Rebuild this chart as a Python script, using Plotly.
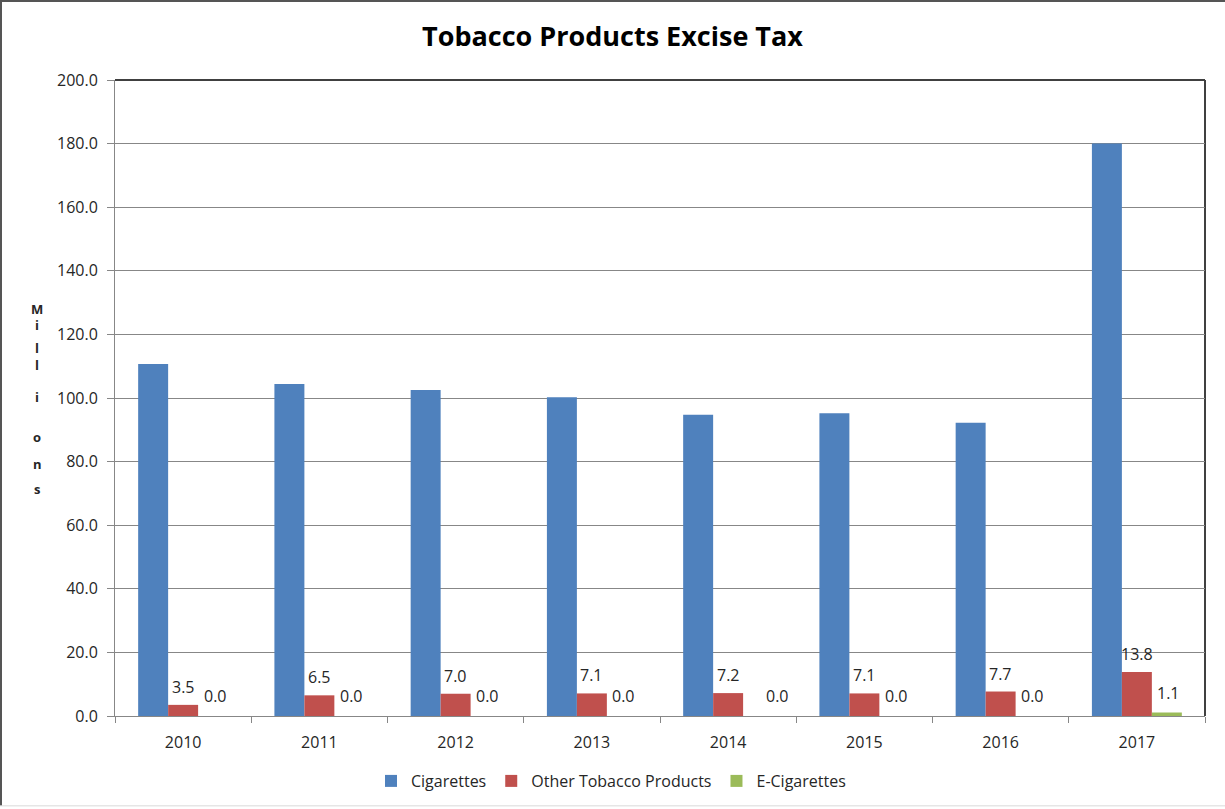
import plotly.graph_objects as go

# Excise tax collections by fiscal year, in millions of dollars
years = ["2010", "2011", "2012", "2013", "2014", "2015", "2016", "2017"]
cigarettes = [110.7, 104.4, 102.5, 100.2, 94.7, 95.2, 92.2, 180.0]
other_tobacco = [3.5, 6.5, 7.0, 7.1, 7.2, 7.1, 7.7, 13.8]
e_cigarettes = [0.0, 0.0, 0.0, 0.0, 0.0, 0.0, 0.0, 1.1]
y_ticks = [0, 20, 40, 60, 80, 100, 120, 140, 160, 180, 200]

BLUE = "#4F81BD"
RED = "#C0504D"
GREEN = "#9BBB59"
FONT = "Open Sans"
TEXT = "#262626"
GRID = "#878787"
FS = 16

W, H = 1225, 809
L, R, T, B = 115, 20, 80, 92
pw, ph = W - L - R, H - T - B
BARGAP = 0.34

fig = go.Figure()
fig.add_trace(go.Bar(name="Cigarettes", x=years, y=cigarettes, marker_color=BLUE,
                     marker_line_width=0))
fig.add_trace(go.Bar(name="Other Tobacco Products", x=years, y=other_tobacco,
                     marker_color=RED, marker_line_width=0))
fig.add_trace(go.Bar(name="E-Cigarettes", x=years, y=e_cigarettes, marker_color=GREEN,
                     marker_line_width=0))

# value labels above the Other Tobacco and E-Cigarette bars
# (category positions are given by index so the year strings are not read as numbers)
annotations = []
bar_px = pw / len(years) * (1 - BARGAP) / 3
for i, v in enumerate(other_tobacco):
    annotations.append(dict(x=i, y=v, xref="x", yref="y", text=f"{v:.1f}",
                            showarrow=False, yshift=18,
                            font=dict(family=FONT, size=FS, color=TEXT)))
for i, v in enumerate(e_cigarettes):
    shift = bar_px + (19 if years[i] == "2014" else 2)
    annotations.append(dict(x=i, y=v, xref="x", yref="y", text=f"{v:.1f}",
                            showarrow=False, yshift=20, xshift=shift,
                            font=dict(family=FONT, size=FS, color=TEXT)))

# stacked vertical axis title
letters = "Millions"
letter_px = [309, 325, 348, 365, 397, 438, 465, 490]
for ch, py in zip(letters, letter_px):
    annotations.append(dict(x=(37 - L) / pw, y=(H - B - py) / ph,
                            xref="paper", yref="paper", text=f"<b>{ch}</b>",
                            showarrow=False, xanchor="center", yanchor="middle",
                            font=dict(family=FONT, size=13, color=TEXT)))

shapes = [
    # plot-area border on top and right
    dict(type="line", xref="paper", yref="paper", x0=0, x1=1, y0=1, y1=1,
         line=dict(color="#404040", width=2), layer="below"),
    dict(type="line", xref="paper", yref="paper", x0=1, x1=1, y0=0, y1=1,
         line=dict(color="#404040", width=2), layer="below"),
    # chart frame
    dict(type="line", xref="paper", yref="paper", x0=-L / pw, x1=(W - L + 5) / pw,
         y0=(H - B - 1) / ph, y1=(H - B - 1) / ph, line=dict(color="#555555", width=2)),
    dict(type="line", xref="paper", yref="paper", x0=(1 - L) / pw, x1=(1 - L) / pw,
         y0=(H - B - 807) / ph, y1=(H - B) / ph, line=dict(color="#555555", width=2)),
    dict(type="line", xref="paper", yref="paper", x0=-L / pw, x1=(W - L + 5) / pw,
         y0=(H - B - 807) / ph, y1=(H - B - 807) / ph, line=dict(color="#d9d9d9", width=1)),
]

fig.update_layout(
    width=W, height=H,
    margin=dict(l=L, r=R, t=T, b=B),
    paper_bgcolor="white", plot_bgcolor="white",
    barmode="group", bargap=BARGAP, bargroupgap=0,
    title=dict(text="<b>Tobacco Products Excise Tax</b>", x=0.5, xanchor="center",
               y=1 - 37 / H, yanchor="middle", yref="container",
               font=dict(family=FONT, size=27, color="#000000")),
    font=dict(family=FONT, size=FS, color=TEXT),
    xaxis=dict(type="category", showgrid=False, showline=True, linecolor=GRID,
               linewidth=1, ticks="outside", tickson="boundaries", ticklen=6,
               tickcolor=GRID, tickangle=0, ticklabelstandoff=12,
               tickfont=dict(family=FONT, size=FS, color=TEXT)),
    yaxis=dict(range=[0, 200], tickvals=y_ticks, tickformat=".1f", showgrid=True,
               gridcolor=GRID, gridwidth=1, showline=True, linecolor=GRID, linewidth=1,
               ticks="outside", ticklen=7, tickcolor=GRID, zeroline=False,
               ticklabelstandoff=6,
               tickfont=dict(family=FONT, size=FS, color=TEXT)),
    legend=dict(orientation="h", x=(611 - L) / pw, xanchor="center", y=(H - B - 781) / ph,
                yanchor="middle", yref="paper", font=dict(family=FONT, size=FS, color=TEXT),
                itemwidth=30, traceorder="normal"),
    annotations=annotations,
    shapes=shapes,
)

fig.write_html("out.html")
